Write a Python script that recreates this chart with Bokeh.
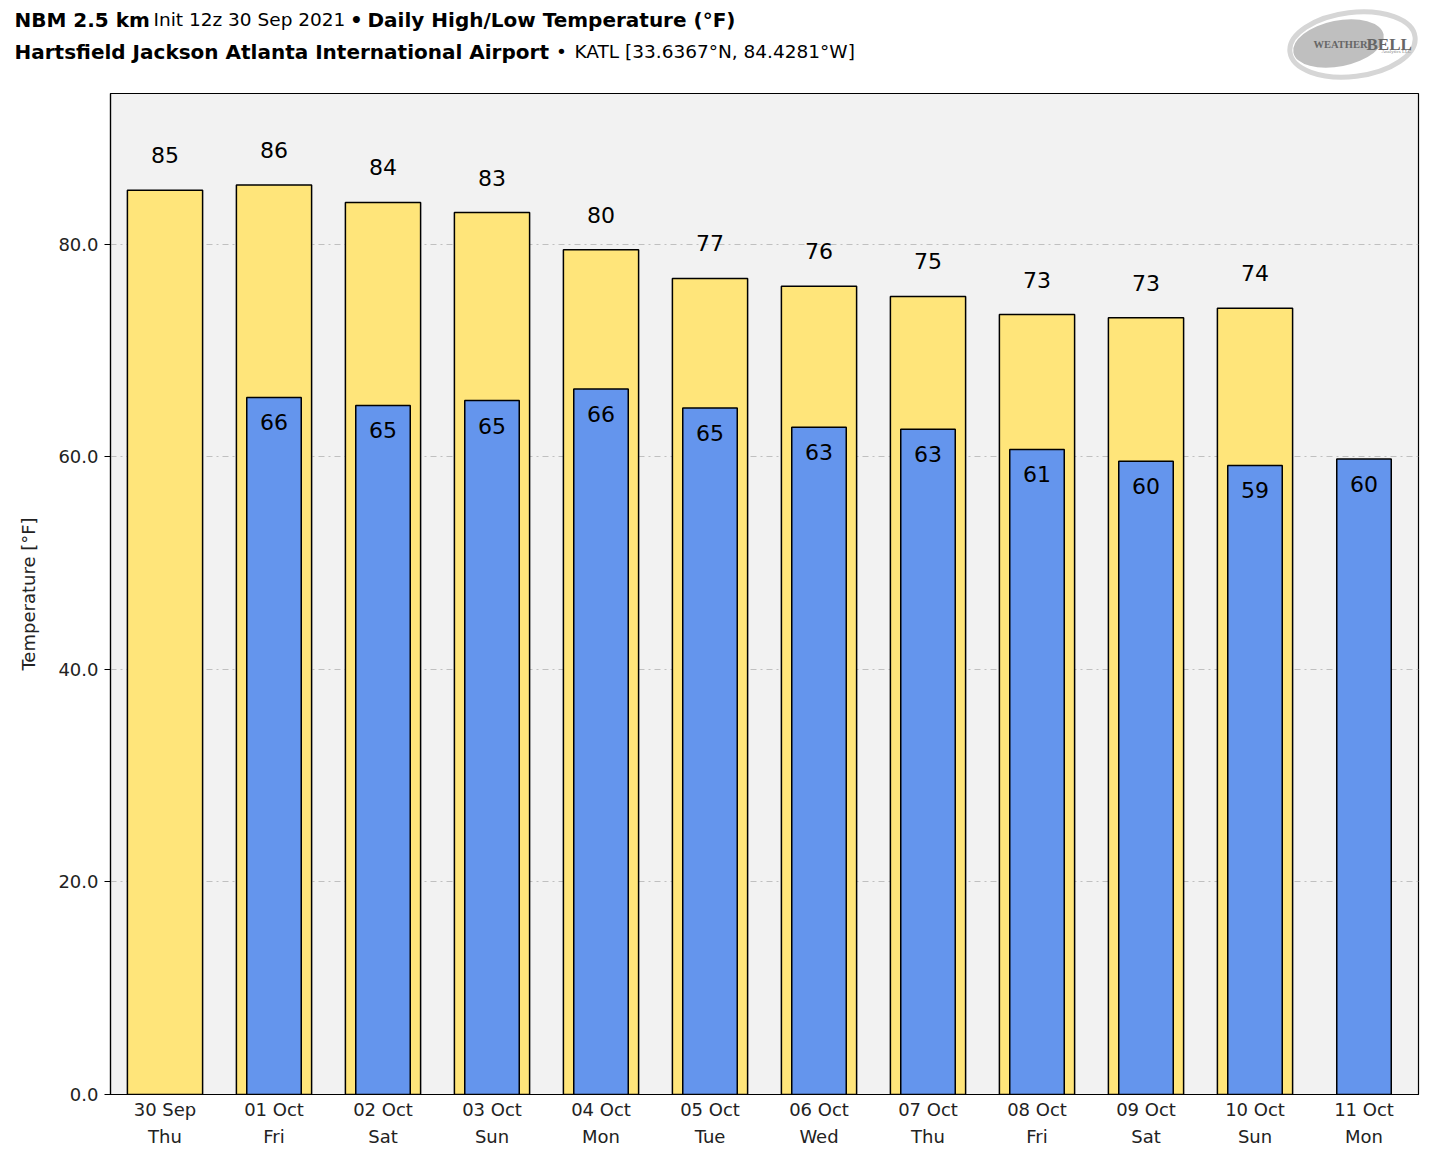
from bokeh.plotting import figure
from bokeh.layouts import column
from bokeh.models import (ColumnDataSource, FactorRange, Range1d, FixedTicker,
                          PrintfTickFormatter)
from bokeh.core.properties import value
from bokeh.embed import file_html
from bokeh.resources import INLINE

# days on the x axis (two-line tick labels)
DAYS = ["30 Sep\nThu", "01 Oct\nFri", "02 Oct\nSat", "03 Oct\nSun", "04 Oct\nMon",
        "05 Oct\nTue", "06 Oct\nWed", "07 Oct\nThu", "08 Oct\nFri", "09 Oct\nSat",
        "10 Oct\nSun", "11 Oct\nMon"]

# daily highs (30 Sep .. 10 Oct) and lows (01 Oct .. 11 Oct), deg F
HIGH_DAYS = DAYS[:11]
HIGHS = [85.1, 85.6, 83.95, 83.0, 79.5, 76.8, 76.05, 75.1, 73.4, 73.1, 74.0]
LOW_DAYS = DAYS[1:]
LOWS = [65.6, 64.85, 65.3, 66.4, 64.6, 62.8, 62.6, 60.7, 59.6, 59.2, 59.8]

Y_TICKS = [0, 20, 40, 60, 80]
Y_MAX = 94.2

YELLOW = "#FFE57A"
BLUE = "#6495ED"
FONT = "DejaVu Sans"

W = 1432
HEAD_H = 80

# ---- header: titles + logo, drawn in page pixels
head = figure(width=W, height=HEAD_H, x_range=Range1d(0, W), y_range=Range1d(HEAD_H, 0),
              x_axis_type=None, y_axis_type=None, output_backend="svg",
              toolbar_location=None, min_border=0, frame_align=False)
head.outline_line_color = None
head.grid.grid_line_color = None
head.background_fill_color = "white"

# (text, x, baseline y, size, style, align)
TITLE_RUNS = [
    ("NBM 2.5 km", 14, 19, "20px", "bold", "left"),
    ("Init 12z 30 Sep 2021", 153, 19, "18.5px", "normal", "left"),
    ("•", 356, 19, "20px", "bold", "center"),
    ("Daily High/Low Temperature (°F)", 367, 19, "20px", "bold", "left"),
    ("Hartsfield Jackson Atlanta International Airport", 14, 51, "20px", "bold", "left"),
    ("•", 561, 51, "18.5px", "normal", "center"),
    ("KATL [33.6367°N, 84.4281°W]", 574, 51, "18.5px", "normal", "left"),
]
for txt, px, py, size, style, align in TITLE_RUNS:
    head.text(x=[px], y=[py], text=[txt], text_font=value(FONT), text_font_size=size,
              text_font_style=style, text_align=align, text_baseline="alphabetic",
              text_color="black")

# logo (WeatherBELL)
head.ellipse(x=[1352], y=[44], width=[126], height=[64], angle=0.12,
             fill_color=None, line_color="#d6d6d6", line_width=5)
head.ellipse(x=[1338], y=[43], width=[92], height=[46], angle=0.2,
             fill_color="#b8b8b8", fill_alpha=0.9, line_color=None)
head.text(x=[1313], y=[44], text=["WEATHER"], text_font=value("Liberation Serif"),
          text_font_size="10.5px", text_font_style="bold", text_color="#666666",
          text_baseline="alphabetic")
head.text(x=[1366], y=[44], text=["BELL"], text_font=value("Liberation Serif"),
          text_font_size="17px", text_font_style="bold", text_color="#666666",
          text_baseline="alphabetic")
head.text(x=[1381], y=[51], text=["Analytics LLC"], text_font=value("Liberation Serif"),
          text_font_size="5px", text_color="#888888", text_baseline="alphabetic")

# ---- main chart
p = figure(width=W, height=1069, x_range=FactorRange(factors=DAYS, range_padding=0),
           y_range=Range1d(0, Y_MAX), output_backend="svg", toolbar_location=None,
           min_border_left=110, min_border_right=14, min_border_top=13,
           min_border_bottom=55, frame_align=False)

p.background_fill_color = "#f2f2f2"
p.border_fill_color = "white"
p.outline_line_color = "black"
p.outline_line_width = 1.2

hi_src = ColumnDataSource(dict(x=HIGH_DAYS, y=HIGHS, t=["%d" % round(v) for v in HIGHS]))
lo_src = ColumnDataSource(dict(x=LOW_DAYS, y=LOWS, t=["%d" % round(v) for v in LOWS]))

p.vbar(x="x", top="y", bottom=0, width=0.69, source=hi_src, fill_color=YELLOW,
       line_color="black", line_width=1.5)
p.vbar(x="x", top="y", bottom=0, width=0.5, source=lo_src, fill_color=BLUE,
       line_color="black", line_width=1.5)

p.text(x="x", y="y", text="t", source=hi_src, text_align="center",
       text_baseline="middle", y_offset=-35, text_font_size="22px",
       text_font=value(FONT), text_color="black")
p.text(x="x", y="y", text="t", source=lo_src, text_align="center",
       text_baseline="middle", y_offset=25, text_font_size="22px",
       text_font=value(FONT), text_color="black")

# axes
p.xgrid.grid_line_color = None
p.ygrid.grid_line_color = "#c0c0c0"
p.ygrid.grid_line_dash = "dashdot"
p.ygrid.grid_line_width = 1

p.yaxis.ticker = FixedTicker(ticks=Y_TICKS)
p.yaxis.formatter = PrintfTickFormatter(format="%.1f")
p.yaxis.axis_label = "Temperature [°F]"
p.yaxis.axis_label_text_font_style = "normal"
p.yaxis.axis_label_text_font = FONT
p.yaxis.axis_label_text_font_size = "18px"
p.yaxis.axis_label_text_color = "#222222"
p.yaxis.axis_label_standoff = 16
p.yaxis.major_tick_out = 6
p.yaxis.major_tick_in = 0
p.yaxis.minor_tick_out = 0
p.yaxis.minor_tick_in = 0
p.yaxis.major_label_standoff = 6

p.xaxis.major_tick_out = 0
p.xaxis.major_tick_in = 0
p.xaxis.major_label_standoff = 4
p.xaxis.major_label_text_line_height = 1.3

for ax in (p.xaxis, p.yaxis):
    ax.major_label_text_font = FONT
    ax.major_label_text_font_size = "18px"
    ax.major_label_text_color = "#222222"
    ax.axis_line_color = "black"
    ax.axis_line_width = 1.2
    ax.major_tick_line_color = "black"

layout = column(head, p, spacing=0)
open("out.html", "w").write(file_html(layout, INLINE))
